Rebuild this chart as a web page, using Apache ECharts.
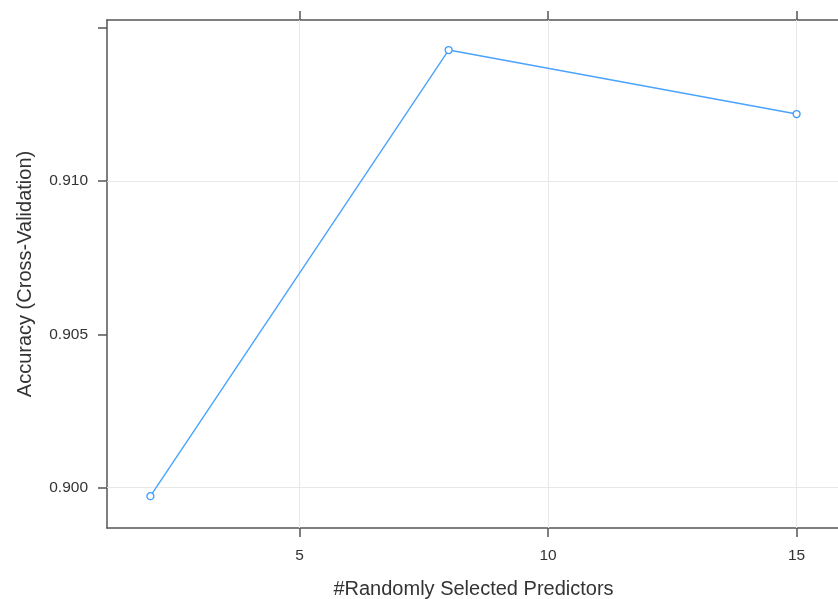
<!DOCTYPE html>
<html>
<head>
<meta charset="utf-8">
<script src="https://cdn.jsdelivr.net/npm/echarts@6/dist/echarts.min.js"></script>
<style>html,body{margin:0;padding:0;background:#fff;overflow:hidden;}#c{width:838px;height:599px;}</style>
</head>
<body>
<div id="c"></div>
<script>
const mtry = [2, 8, 15];
const accuracy = [0.89972, 0.914275, 0.912187];
const xTicks = [5, 10, 15];
const yTicks = [0.900, 0.905, 0.910, 0.915];
const yLabelTicks = [0.900, 0.905, 0.910];
const xName = '#Randomly Selected Predictors';
const yName = 'Accuracy (Cross-Validation)';

const xMin = 1.127, xMax = 15.873;
const yMin = 0.898681, yMax = 0.915255;

const font = 'Liberation Sans, Arial, sans-serif';
const axisCol = '#555';
const gridCol = '#e8e8e8';

const chart = echarts.init(document.getElementById('c'), null, {renderer: 'canvas'});
chart.setOption({
  animation: false,
  backgroundColor: '#fff',
  grid: {left: 107, top: 20, width: 733, height: 508, containLabel: false, outerBoundsMode: 'none'},
  xAxis: [{
    type: 'value', min: xMin, max: xMax, position: 'bottom',
    name: xName, nameLocation: 'middle', nameGap: 51,
    nameTextStyle: {fontFamily: font, fontSize: 20, color: '#333'},
    axisLine: {show: true, onZero: false, lineStyle: {color: axisCol, width: 1.5}},
    axisTick: {show: true, inside: false, length: 9, customValues: xTicks, lineStyle: {color: axisCol, width: 1.5}},
    axisLabel: {show: true, margin: 20, customValues: xTicks, fontFamily: font, fontSize: 15.5, color: '#333'},
    splitLine: {show: false}
  }, {
    type: 'value', min: xMin, max: xMax, position: 'top',
    axisLine: {show: true, onZero: false, lineStyle: {color: axisCol, width: 1.5}},
    axisTick: {show: true, inside: false, length: 9, customValues: xTicks, lineStyle: {color: axisCol, width: 1.5}},
    axisLabel: {show: false},
    splitLine: {show: false}
  }],
  yAxis: [{
    type: 'value', min: yMin, max: yMax, position: 'left',
    name: yName, nameLocation: 'middle', nameGap: 72,
    nameTextStyle: {fontFamily: font, fontSize: 20, color: '#333'},
    axisLine: {show: true, onZero: false, lineStyle: {color: axisCol, width: 1.5}},
    axisTick: {show: true, inside: false, length: 9, customValues: yTicks, lineStyle: {color: axisCol, width: 1.5}},
    axisLabel: {show: true, margin: 19, customValues: yLabelTicks, fontFamily: font, fontSize: 15.5, color: '#333',
      formatter: v => v.toFixed(3)},
    splitLine: {show: false}
  }],
  series: [{
    type: 'line', xAxisIndex: 0, yAxisIndex: 0,
    data: mtry.map((m, i) => [m, accuracy[i]]),
    symbol: 'circle', symbolSize: 7, showSymbol: true,
    itemStyle: {color: '#fff', borderColor: '#3d9cff', borderWidth: 1.3},
    lineStyle: {color: '#4aa3ff', width: 1.4},
    z: 5,
    markLine: {
      silent: true, symbol: 'none', label: {show: false},
      lineStyle: {color: gridCol, width: 1, type: 'solid'},
      z: 1,
      data: xTicks.map(v => ({xAxis: v})).concat(yTicks.map(v => ({yAxis: v})))
    }
  }]
});
</script>
</body>
</html>
